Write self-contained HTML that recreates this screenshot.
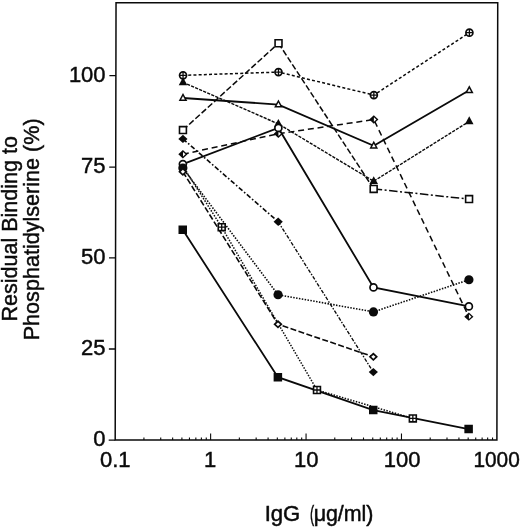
<!DOCTYPE html>
<html><head><meta charset="utf-8"><title>Figure</title>
<style>html,body{margin:0;padding:0;background:#fff}svg{display:block;filter:grayscale(1)}text{font-family:"Liberation Sans",sans-serif;fill:#0a0a0a}</style>
</head><body>
<svg width="520" height="527" viewBox="0 0 520 527">
<rect width="520" height="527" fill="#fff"/>
<g transform="translate(0 440) skewX(-0.109) translate(0 -440)">
<rect x="115.2" y="2.75" width="381.70" height="437.35" fill="none" stroke="#0a0a0a" stroke-width="1.5"/>
<path d="M108.70 440.10H115.20M108.70 348.98H115.20M108.70 257.85H115.20M108.70 167.13H115.20M108.70 75.60H115.20" stroke="#0a0a0a" stroke-width="1.4" fill="none"/>
<path d="M143.93 440.10V437.40M160.73 440.10V437.40M172.65 440.10V437.40M181.90 440.10V437.40M189.46 440.10V437.40M195.84 440.10V437.40M201.38 440.10V437.40M206.26 440.10V437.40M210.62 440.10V433.60M239.35 440.10V437.40M256.15 440.10V437.40M268.08 440.10V437.40M277.32 440.10V437.40M284.88 440.10V437.40M291.27 440.10V437.40M296.80 440.10V437.40M301.68 440.10V437.40M306.05 440.10V433.60M334.78 440.10V437.40M351.58 440.10V437.40M363.50 440.10V437.40M372.75 440.10V437.40M380.31 440.10V437.40M386.69 440.10V437.40M392.23 440.10V437.40M397.11 440.10V437.40M401.47 440.10V433.60M430.20 440.10V437.40M447.00 440.10V437.40M458.93 440.10V437.40M468.17 440.10V437.40M475.73 440.10V437.40M482.12 440.10V437.40M487.65 440.10V437.40M492.53 440.10V437.40" stroke="#0a0a0a" stroke-width="1.1" fill="none"/>
<path d="M182.35 75.37L277.77 72.08L373.20 95.07L468.62 32.66" fill="none" stroke="#0a0a0a" stroke-width="1.5" stroke-dasharray="3 2.2"/>
<path d="M182.35 82.30L277.77 123.91L373.20 181.21L468.62 121.36" fill="none" stroke="#0a0a0a" stroke-width="1.4" stroke-dasharray="3.2 1.2"/>
<path d="M182.35 98.00L277.77 104.56L373.20 145.81L468.62 90.33" fill="none" stroke="#0a0a0a" stroke-width="1.8"/>
<path d="M182.35 130.12L277.77 43.25" fill="none" stroke="#0a0a0a" stroke-width="1.5" stroke-dasharray="6 2.4"/>
<path d="M277.77 43.25L373.20 188.88" fill="none" stroke="#0a0a0a" stroke-width="1.5" stroke-dasharray="6 2.4"/>
<path d="M373.20 188.88L468.62 199.10" fill="none" stroke="#0a0a0a" stroke-width="1.5" stroke-dasharray="8.5 2.5 2 2.5"/>
<path d="M182.35 138.88L277.77 221.73" fill="none" stroke="#0a0a0a" stroke-width="1.6" stroke-dasharray="4.8 2.1 1.6 2.1"/>
<path d="M277.77 221.73L373.20 372.11" fill="none" stroke="#0a0a0a" stroke-width="1.35" stroke-dasharray="3.6 1.5 1.5 1.5"/>
<path d="M182.35 154.21L277.77 133.76L373.20 119.53L468.62 316.63" fill="none" stroke="#0a0a0a" stroke-width="1.5" stroke-dasharray="6 3.8"/>
<path d="M182.35 164.06L277.77 127.93L373.20 287.43L468.62 306.41" fill="none" stroke="#0a0a0a" stroke-width="1.8"/>
<path d="M182.35 168.07L277.77 294.73L373.20 311.88L468.62 279.76" fill="none" stroke="#0a0a0a" stroke-width="1.6" stroke-dasharray="1.5 1.4"/>
<path d="M182.35 171.73L277.77 324.30L373.20 356.78" fill="none" stroke="#0a0a0a" stroke-width="1.6" stroke-dasharray="6 2.4"/>
<path d="M182.35 229.76L277.77 377.22L373.20 410.07L468.62 429.05" fill="none" stroke="#0a0a0a" stroke-width="1.8"/>
<path d="M182.35 166.25L221.31 227.21L316.89 390.00L412.80 418.46" fill="none" stroke="#0a0a0a" stroke-width="1.5" stroke-dasharray="1.5 1.4"/>
<path d="M182.35 77.30L186.65 85.20H178.05Z" fill="#0a0a0a"/>
<path d="M277.77 118.91L282.07 126.81H273.47Z" fill="#0a0a0a"/>
<path d="M373.20 176.21L377.50 184.11H368.90Z" fill="#0a0a0a"/>
<path d="M468.62 116.36L472.92 124.26H464.32Z" fill="#0a0a0a"/>
<path d="M182.35 150.01L186.95 154.21L182.35 158.41L177.75 154.21Z" fill="#0a0a0a"/><path d="M182.45 151.91L184.95 154.21L182.45 156.51Z" fill="#fff"/>
<path d="M277.77 129.56L282.37 133.76L277.77 137.96L273.17 133.76Z" fill="#0a0a0a"/><path d="M277.87 131.46L280.37 133.76L277.87 136.06Z" fill="#fff"/>
<path d="M373.20 115.33L377.80 119.53L373.20 123.73L368.60 119.53Z" fill="#0a0a0a"/><path d="M373.30 117.23L375.80 119.53L373.30 121.83Z" fill="#fff"/>
<path d="M468.62 312.43L473.22 316.63L468.62 320.83L464.02 316.63Z" fill="#0a0a0a"/><path d="M468.72 314.33L471.22 316.63L468.72 318.93Z" fill="#fff"/>
<rect x="178.90" y="126.67" width="6.9" height="6.9" fill="#fff" stroke="#0a0a0a" stroke-width="1.6"/>
<rect x="274.32" y="39.80" width="6.9" height="6.9" fill="#fff" stroke="#0a0a0a" stroke-width="1.6"/>
<rect x="369.75" y="185.43" width="6.9" height="6.9" fill="#fff" stroke="#0a0a0a" stroke-width="1.6"/>
<rect x="465.17" y="195.65" width="6.9" height="6.9" fill="#fff" stroke="#0a0a0a" stroke-width="1.6"/>
<path d="M182.35 134.68L186.95 138.88L182.35 143.07L177.75 138.88Z" fill="#0a0a0a"/>
<path d="M277.77 217.53L282.37 221.73L277.77 225.93L273.17 221.73Z" fill="#0a0a0a"/>
<path d="M373.20 367.91L377.80 372.11L373.20 376.31L368.60 372.11Z" fill="#0a0a0a"/>
<path d="M182.35 93.00L186.65 100.90H178.05Z" fill="#0a0a0a"/><path d="M182.35 96.05L184.20 99.45H180.50Z" fill="#fff"/>
<path d="M277.77 99.56L282.07 107.47H273.47Z" fill="#0a0a0a"/><path d="M277.77 102.61L279.62 106.02H275.92Z" fill="#fff"/>
<path d="M373.20 140.81L377.50 148.71H368.90Z" fill="#0a0a0a"/><path d="M373.20 143.86L375.05 147.26H371.35Z" fill="#fff"/>
<path d="M468.62 85.33L472.92 93.23H464.32Z" fill="#0a0a0a"/><path d="M468.62 88.38L470.47 91.78H466.77Z" fill="#fff"/>
<circle cx="182.35" cy="164.06" r="3.5" fill="#fff" stroke="#0a0a0a" stroke-width="1.7"/>
<circle cx="277.77" cy="127.93" r="3.5" fill="#fff" stroke="#0a0a0a" stroke-width="1.7"/>
<circle cx="373.20" cy="287.43" r="3.5" fill="#fff" stroke="#0a0a0a" stroke-width="1.7"/>
<circle cx="468.62" cy="306.41" r="3.5" fill="#fff" stroke="#0a0a0a" stroke-width="1.7"/>
<circle cx="182.35" cy="168.07" r="4.6" fill="#0a0a0a"/>
<circle cx="277.77" cy="294.73" r="4.6" fill="#0a0a0a"/>
<circle cx="373.20" cy="311.88" r="4.6" fill="#0a0a0a"/>
<circle cx="468.62" cy="279.76" r="4.6" fill="#0a0a0a"/>
<path d="M182.35 167.53L186.95 171.73L182.35 175.93L177.75 171.73Z" fill="#0a0a0a"/><path d="M182.35 169.83L184.45 171.73L182.35 173.63L180.25 171.73Z" fill="#fff"/>
<path d="M277.77 320.10L282.37 324.30L277.77 328.50L273.17 324.30Z" fill="#0a0a0a"/><path d="M277.77 322.40L279.87 324.30L277.77 326.19L275.67 324.30Z" fill="#fff"/>
<path d="M373.20 352.58L377.80 356.78L373.20 360.98L368.60 356.78Z" fill="#0a0a0a"/><path d="M373.20 354.88L375.30 356.78L373.20 358.68L371.10 356.78Z" fill="#fff"/>
<rect x="178.10" y="225.51" width="8.5" height="8.5" fill="#0a0a0a"/>
<rect x="273.52" y="372.97" width="8.5" height="8.5" fill="#0a0a0a"/>
<rect x="368.95" y="405.82" width="8.5" height="8.5" fill="#0a0a0a"/>
<rect x="464.37" y="424.80" width="8.5" height="8.5" fill="#0a0a0a"/>
<rect x="217.86" y="223.76" width="6.9" height="6.9" fill="#fff" stroke="#0a0a0a" stroke-width="1.6"/><path d="M217.86 227.21H224.76M221.31 223.76V230.66" stroke="#0a0a0a" stroke-width="1.3"/>
<rect x="313.44" y="386.55" width="6.9" height="6.9" fill="#fff" stroke="#0a0a0a" stroke-width="1.6"/><path d="M313.44 390.00H320.34M316.89 386.55V393.44" stroke="#0a0a0a" stroke-width="1.3"/>
<rect x="409.35" y="415.01" width="6.9" height="6.9" fill="#fff" stroke="#0a0a0a" stroke-width="1.6"/><path d="M409.35 418.46H416.25M412.80 415.01V421.91" stroke="#0a0a0a" stroke-width="1.3"/>
<circle cx="182.35" cy="75.37" r="3.5" fill="#fff" stroke="#0a0a0a" stroke-width="1.7"/><path d="M178.85 75.37H185.85M182.35 71.87V78.87" stroke="#0a0a0a" stroke-width="1.3"/>
<circle cx="277.77" cy="72.08" r="3.5" fill="#fff" stroke="#0a0a0a" stroke-width="1.7"/><path d="M274.27 72.08H281.27M277.77 68.58V75.58" stroke="#0a0a0a" stroke-width="1.3"/>
<circle cx="373.20" cy="95.07" r="3.5" fill="#fff" stroke="#0a0a0a" stroke-width="1.7"/><path d="M369.70 95.07H376.70M373.20 91.57V98.57" stroke="#0a0a0a" stroke-width="1.3"/>
<circle cx="468.62" cy="32.66" r="3.5" fill="#fff" stroke="#0a0a0a" stroke-width="1.7"/><path d="M465.12 32.66H472.12M468.62 29.16V36.16" stroke="#0a0a0a" stroke-width="1.3"/>
</g>
<text transform="translate(105.60 446.10) scale(1.0000 1)" text-anchor="end" font-size="22.0" stroke="#0a0a0a" stroke-width="0.45">0</text>
<text transform="translate(105.60 354.98) scale(1.0000 1)" text-anchor="end" font-size="22.0" stroke="#0a0a0a" stroke-width="0.45">25</text>
<text transform="translate(105.60 263.85) scale(1.0000 1)" text-anchor="end" font-size="22.0" stroke="#0a0a0a" stroke-width="0.45">50</text>
<text transform="translate(105.60 172.73) scale(1.0000 1)" text-anchor="end" font-size="22.0" stroke="#0a0a0a" stroke-width="0.45">75</text>
<text transform="translate(105.60 81.60) scale(1.0000 1)" text-anchor="end" font-size="22.0" stroke="#0a0a0a" stroke-width="0.45">100</text>
<text transform="translate(115.20 467.10) scale(1.0000 1)" text-anchor="middle" font-size="22.0" stroke="#0a0a0a" stroke-width="0.45">0.1</text>
<text transform="translate(210.20 467.10) scale(1.0000 1)" text-anchor="middle" font-size="22.0" stroke="#0a0a0a" stroke-width="0.45">1</text>
<text transform="translate(306.25 467.10) scale(1.0000 1)" text-anchor="middle" font-size="22.0" stroke="#0a0a0a" stroke-width="0.45">10</text>
<text transform="translate(402.10 467.10) scale(1.0000 1)" text-anchor="middle" font-size="22.0" stroke="#0a0a0a" stroke-width="0.45">100</text>
<text transform="translate(473.41 467.10) scale(0.9481 1)" text-anchor="start" font-size="22.0" stroke="#0a0a0a" stroke-width="0.45">1000</text>
<text transform="translate(264.66 521.30) scale(1.0431 1)" text-anchor="start" font-size="21.2" stroke="#0a0a0a" stroke-width="0.45">IgG</text>
<text transform="translate(309.93 521.30) scale(0.5871 1)" text-anchor="start" font-size="21.2" stroke="#0a0a0a" stroke-width="0.45">(</text>
<text transform="translate(313.65 521.30) scale(1.0180 1)" text-anchor="start" font-size="21.2" stroke="#0a0a0a" stroke-width="0.45">μ</text>
<text transform="translate(325.90 521.30) scale(1.0110 1)" text-anchor="start" font-size="21.2" stroke="#0a0a0a" stroke-width="0.45">g/ml)</text>
<text transform="translate(17.30 321.46) rotate(-90) scale(0.9778 1)" font-size="22.0" stroke="#0a0a0a" stroke-width="0.45">Residual Binding to</text>
<text transform="translate(39.00 340.27) rotate(-90) scale(0.9814 1)" font-size="22.0" stroke="#0a0a0a" stroke-width="0.45">Phosphatidylserine (%)</text>
</svg></body></html>
